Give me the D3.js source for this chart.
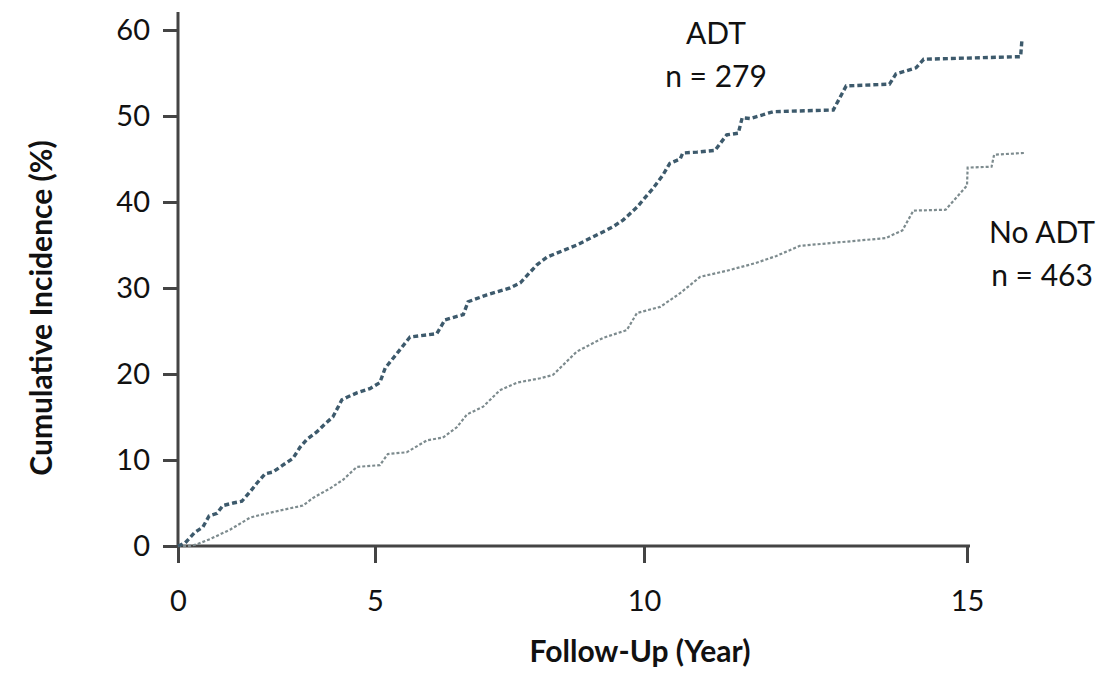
<!DOCTYPE html>
<html>
<head>
<meta charset="utf-8">
<script src="https://cdn.jsdelivr.net/npm/d3@7"></script>
<style>
  body { margin: 0; background: #fff; }
  text { font-family: Lato, "Open Sans", sans-serif; fill: #111; }
</style>
</head>
<body>
<svg id="chart"></svg>
<script>
const chartWidth = 1107;
const chartHeight = 674;

// tick labels
const xTicks = [0, 5, 10, 15];
const yTicks = [0, 10, 20, 30, 40, 50, 60];

// ADT group (n = 279): follow-up year, cumulative incidence %
const adtYears = [0, 0.18, 0.43, 0.63, 0.79, 0.99, 1.14, 1.40, 1.62, 1.83, 2.0, 2.21, 2.41, 2.66, 2.92, 3.10, 3.27, 3.53, 3.73, 3.93, 4.16, 4.29, 4.54, 4.87, 5.09, 5.19, 5.41, 5.65, 6.15, 6.30, 6.64, 6.73, 7.08, 7.51, 7.70, 8.01, 8.20, 8.75, 9.42, 9.61, 9.87, 10.14, 10.29, 10.40, 10.56, 10.60, 10.82, 11.10, 11.28, 11.46, 11.52, 11.64, 12.0, 12.93, 13.13, 13.80, 13.90, 14.21, 14.33, 15.83, 15.85];
const adtValues = [0, 0.35, 1.6, 2.2, 3.5, 3.8, 4.7, 5.0, 5.2, 6.3, 7.3, 8.4, 8.6, 9.4, 10.2, 11.5, 12.4, 13.3, 14.2, 15.0, 17.0, 17.3, 17.8, 18.3, 19.0, 20.7, 22.4, 24.3, 24.7, 26.3, 26.9, 28.4, 29.2, 30.0, 30.6, 32.7, 33.6, 35.0, 37.1, 37.9, 39.4, 41.6, 43.1, 44.5, 45.0, 45.7, 45.8, 46.0, 47.8, 48.0, 49.8, 49.7, 50.5, 50.7, 53.5, 53.7, 54.9, 55.6, 56.6, 56.9, 58.8];

// No ADT group (n = 463)
const noAdtYears = [0, 0.30, 0.48, 0.81, 1.32, 1.83, 2.08, 2.66, 3.17, 3.43, 3.86, 4.19, 4.54, 5.09, 5.24, 5.59, 5.97, 6.26, 6.52, 6.71, 7.01, 7.32, 7.64, 8.07, 8.31, 8.75, 9.24, 9.68, 9.87, 10.25, 10.56, 10.87, 11.28, 11.73, 12.04, 12.41, 13.74, 14.0, 14.17, 14.67, 15.0, 15.01, 15.38, 15.42, 15.88];
const noAdtValues = [0, 0, 0.2, 0.8, 1.9, 3.3, 3.6, 4.2, 4.7, 5.6, 6.7, 7.7, 9.2, 9.4, 10.7, 10.9, 12.3, 12.6, 13.8, 15.3, 16.2, 18.1, 19.0, 19.5, 19.9, 22.6, 24.2, 25.1, 27.1, 27.8, 29.4, 31.3, 32.0, 32.9, 33.7, 34.9, 35.8, 36.7, 39.0, 39.1, 41.9, 44.0, 44.1, 45.5, 45.7];

const adtData = adtYears.map((t, i) => ({ t: t, v: adtValues[i] }));
const noAdtData = noAdtYears.map((t, i) => ({ t: t, v: noAdtValues[i] }));

const svg = d3.select("#chart")
  .attr("width", chartWidth)
  .attr("height", chartHeight);

// the original figure has unevenly spaced year ticks
const x = d3.scaleLinear()
  .domain([0, 5, 10, 15])
  .range([178, 375, 644, 967]);

const y = d3.scaleLinear()
  .domain([0, 60])
  .range([546, 30]);

const axisColor = "#444";

// y axis
const yAxis = svg.append("g")
  .attr("transform", `translate(${x(0)},0)`)
  .call(d3.axisLeft(y).tickValues(yTicks).tickSize(15).tickPadding(13).tickFormat(d3.format("d")));
yAxis.select(".domain").attr("d", `M0,${y(0)}V12`);

// x axis
const xAxis = svg.append("g")
  .attr("transform", `translate(0,${y(0)})`)
  .call(d3.axisBottom(x).tickValues(xTicks).tickSize(17).tickPadding(27).tickFormat(d3.format("d")));
xAxis.select(".domain").attr("d", `M${x(0)},0H970`);

svg.selectAll(".domain, .tick line")
  .attr("stroke", axisColor)
  .attr("stroke-width", 3);
svg.selectAll(".tick text")
  .style("font-family", "Lato, sans-serif")
  .style("font-size", "29px")
  .attr("fill", "#111");

// curves
const line = d3.line()
  .x(d => x(d.t))
  .y(d => y(d.v));

svg.append("path")
  .datum(noAdtData)
  .attr("d", line)
  .attr("fill", "none")
  .attr("stroke", "#7d8b8e")
  .attr("stroke-width", 2.2)
  .attr("stroke-dasharray", "3,2");

svg.append("path")
  .datum(adtData)
  .attr("d", line)
  .attr("fill", "none")
  .attr("stroke", "#3d5a6c")
  .attr("stroke-width", 3.4)
  .attr("stroke-dasharray", "5,3");

// group labels
svg.append("text")
  .attr("x", 716).attr("y", 44)
  .attr("text-anchor", "middle")
  .style("font-size", "30px")
  .text("ADT");
svg.append("text")
  .attr("x", 716).attr("y", 87)
  .attr("text-anchor", "middle")
  .style("font-size", "30px")
  .text("n = 279");
svg.append("text")
  .attr("x", 1042).attr("y", 243)
  .attr("text-anchor", "middle")
  .style("font-size", "30px")
  .text("No ADT");
svg.append("text")
  .attr("x", 1042).attr("y", 286)
  .attr("text-anchor", "middle")
  .style("font-size", "30px")
  .text("n = 463");

// axis titles
svg.append("text")
  .attr("x", 640).attr("y", 662)
  .attr("text-anchor", "middle")
  .style("font-size", "30px")
  .style("font-weight", "bold")
  .text("Follow-Up (Year)");

svg.append("text")
  .attr("transform", "translate(52,308) rotate(-90)")
  .attr("text-anchor", "middle")
  .style("font-size", "30px")
  .style("font-weight", "bold")
  .text("Cumulative Incidence (%)");
</script>
</body>
</html>
